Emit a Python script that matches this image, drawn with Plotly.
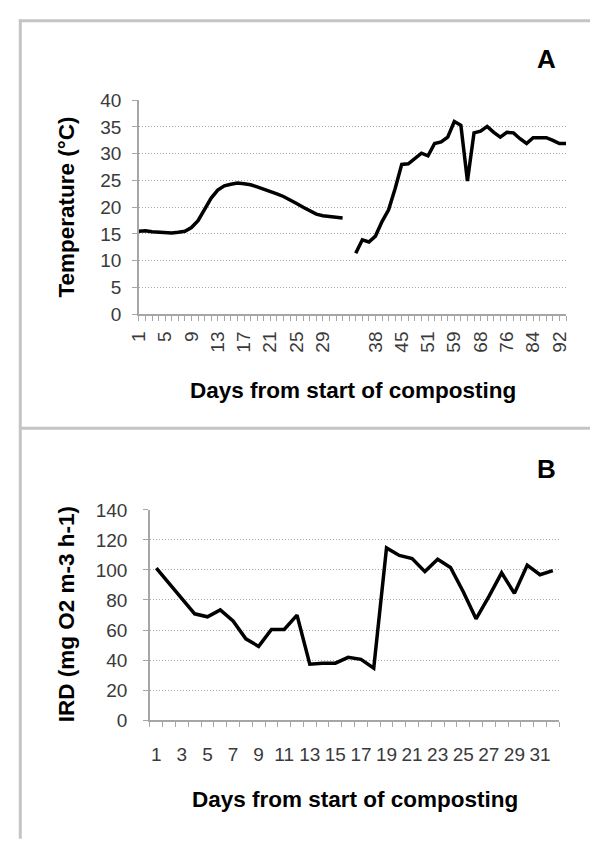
import plotly.graph_objects as go

W, H = 590, 841

# ---------------- Panel A data ----------------
a_days = ["1", "2", "3", "4", "5", "6", "7", "8", "9", "10", "11", "12", "13", "14", "15", "16",
          "17", "18", "19", "20", "21", "22", "23", "24", "25", "26", "27", "28", "29", "30", "31", "32",
          "",
          "34", "35", "37", "38", "40", "42", "43", "45", "47", "48", "50", "51", "53", "55", "57", "59",
          "61", "63", "66", "68", "70", "72", "74", "76", "78", "80", "82", "84", "86", "88", "90", "92", "93"]
a_temp = [15.5, 15.6, 15.4, 15.3, 15.2, 15.2, 15.3, 15.5, 16.2, 17.5, 19.6, 21.7, 23.2, 24.0, 24.3, 24.5,
          24.4, 24.2, 23.8, 23.4, 23.0, 22.5, 22.0, 21.4, 20.7, 20.0, 19.3, 18.7, 18.4, 18.3, 18.2, 18.0,
          None,
          11.4, 13.9, 13.5, 14.6, 17.3, 19.5, 23.5, 28.0, 28.1, 29.2, 30.1, 29.6, 31.9, 32.2, 33.1, 36.0,
          35.3, 24.9, 33.9, 34.2, 35.1, 34.0, 33.1, 34.0, 33.9, 32.8, 31.9, 33.0, 33.0, 33.0, 32.5, 31.9, 31.9]
a_yticks = [0, 5, 10, 15, 20, 25, 30, 35, 40]

# ---------------- Panel B data ----------------
b_days = ["1", "2", "3", "4", "5", "6", "7", "8", "9", "10", "11", "12", "13", "14", "15", "16",
          "17", "18", "19", "20", "21", "22", "23", "24", "25", "26", "27", "28", "29", "30", "31", "32"]
b_ird = [101.3, 90.9, 81.2, 70.8, 68.8, 73.4, 66.0, 54.1, 49.1, 60.4, 60.4, 69.9, 37.2, 37.9, 37.9, 41.8,
         40.5, 34.6, 114.7, 109.7, 107.6, 98.9, 107.1, 101.7, 85.5, 67.5, 82.3, 98.1, 84.4, 103.2, 96.8, 99.6]
b_yticks = [0, 20, 40, 60, 80, 100, 120, 140]

x_title = "Days from start of composting"
a_ytitle = "Temperature (°C)"
b_ytitle = "IRD (mg O2 m-3 h-1)"

FONT = "Liberation Sans, Arial, sans-serif"
TICKC = "#3a3a3a"
AXC = "#a6a6a6"
GRIDC = "#a8a8a8"
GRIDDASH = "1.5px,1.5px"


def px(x):
    return x / W


def py(y):
    return 1 - y / H


fig = go.Figure()

a_x = list(range(len(a_days)))
fig.add_trace(go.Scatter(x=a_x, y=a_temp, mode="lines", connectgaps=False,
                         line=dict(color="black", width=3.5), xaxis="x", yaxis="y",
                         showlegend=False, hoverinfo="skip"))

b_x = list(range(len(b_days)))
fig.add_trace(go.Scatter(x=b_x, y=b_ird, mode="lines",
                         line=dict(color="black", width=3.5), xaxis="x2", yaxis="y2",
                         showlegend=False, hoverinfo="skip"))

tickfont = dict(family=FONT, size=19, color=TICKC)

fig.update_layout(
    width=W, height=H,
    margin=dict(l=0, r=0, t=0, b=0),
    paper_bgcolor="white", plot_bgcolor="white",
    xaxis=dict(domain=[px(131), px(568.5)], range=[0, len(a_days) - 1], anchor="y",
               tickmode="array", tickvals=a_x,
               ticktext=[lab if i % 4 == 0 else "" for i, lab in enumerate(a_days)],
               tickangle=-90, tickfont=tickfont, ticks="outside", ticklen=5, tickcolor=AXC,
               showline=True, linecolor=AXC, linewidth=1.5, showgrid=False, zeroline=False,
               ticklabelstandoff=3),
    yaxis=dict(domain=[py(312), py(92.5)], range=[0, 40], anchor="x",
               tickmode="array", tickvals=a_yticks, tickfont=tickfont,
               ticks="outside", ticklen=5, tickcolor=AXC,
               showline=True, linecolor=AXC, linewidth=1.5,
               showgrid=True, gridcolor=GRIDC, griddash=GRIDDASH, gridwidth=1, zeroline=False,
               ticklabelstandoff=7),
    xaxis2=dict(domain=[px(142.3), px(561.5)], range=[-0.5, len(b_days) - 0.5], anchor="y2",
                tickmode="array", tickvals=[i for i in b_x if i % 2 == 0],
                ticktext=[b_days[i] for i in b_x if i % 2 == 0],
                tickfont=tickfont, ticks="", showline=True, linecolor=AXC, linewidth=1.5,
                showgrid=False, zeroline=False, ticklabelstandoff=16,
                minor=dict(tickmode="linear", tick0=-0.5, dtick=1, ticks="outside",
                           ticklen=5, tickcolor=AXC, showgrid=False)),
    yaxis2=dict(domain=[py(728.3), py(512.7)], range=[0, 140], anchor="x2",
                tickmode="array", tickvals=b_yticks, tickfont=tickfont,
                ticks="outside", ticklen=5, tickcolor=AXC,
                showline=True, linecolor=AXC, linewidth=1.5,
                showgrid=True, gridcolor=GRIDC, griddash=GRIDDASH, gridwidth=1, zeroline=False,
                ticklabelstandoff=12),
)

# panel frames
FRAME = "#c4c4c4"
shapes = [
    dict(type="line", xref="paper", yref="paper", x0=px(8), x1=px(600), y0=py(11), y1=py(11),
         line=dict(color=FRAME, width=3)),
    dict(type="line", xref="paper", yref="paper", x0=px(9.5), x1=px(9.5), y0=py(10), y1=py(428),
         line=dict(color=FRAME, width=3)),
    dict(type="line", xref="paper", yref="paper", x0=px(8), x1=px(600), y0=py(429), y1=py(429),
         line=dict(color=FRAME, width=3)),
    dict(type="line", xref="paper", yref="paper", x0=px(9.5), x1=px(9.5), y0=py(430), y1=py(850),
         line=dict(color=FRAME, width=3)),
]
fig.update_layout(shapes=shapes)

titlefont = dict(family=FONT, size=22.5, color="black")


def ann(text, x, y, size=None, angle=0):
    f = dict(titlefont)
    if size:
        f["size"] = size
    return dict(text=text, x=px(x), y=py(y), xref="paper", yref="paper", showarrow=False,
                xanchor="center", yanchor="middle", textangle=angle, font=f)


annotations = [
    ann("<b>A</b>", 549, 50, size=26),
    ann("<b>B</b>", 549, 471, size=26),
    ann("<b>" + x_title + "</b>", 350, 390),
    ann("<b>" + x_title + "</b>", 352, 810),
    ann("<b>" + a_ytitle + "</b>", 57, 202, angle=-90),
    ann("<b>" + b_ytitle + "</b>", 57, 620, angle=-90),
]
fig.update_layout(annotations=annotations)

fig.write_html("out.html")
